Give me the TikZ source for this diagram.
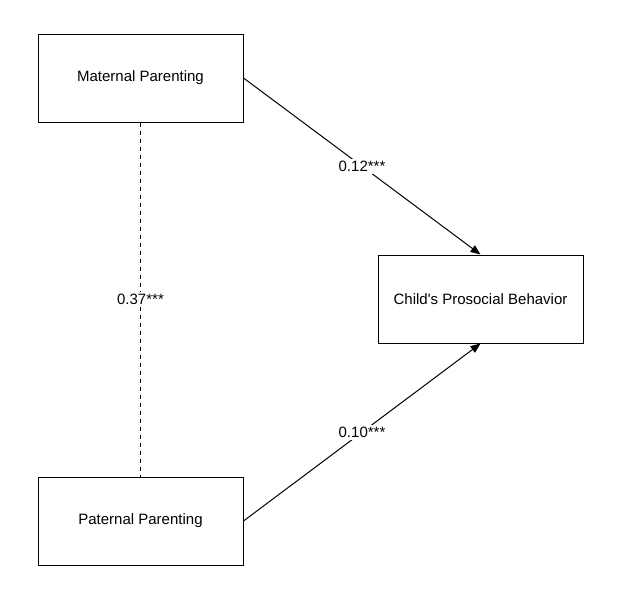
\documentclass[tikz,border=0pt]{standalone}
\usepackage{fontspec}
\setmainfont{Liberation Sans}
\usetikzlibrary{arrows.meta,positioning}

\begin{document}
\begin{tikzpicture}[x=1pt,y=1pt,
    every node/.style={font=\fontsize{15}{18}\selectfont},
    varbox/.style={draw, line width=1pt, minimum width=205pt, minimum height=88pt, inner sep=0pt},
    path/.style={line width=1pt, -{Triangle[length=10pt,width=8pt]}},
    coef/.style={fill=white, inner sep=2pt}
  ]
    \useasboundingbox (0,0) rectangle (618,-603);
    \node[varbox] (mat) at (140.5,-78) {Maternal Parenting};
    \node[varbox] (pat) at (140.5,-521) {Paternal Parenting};
    \node[varbox] (child) at (480.5,-299) {Child\textquotesingle s Prosocial Behavior};
    % correlation between parents
    \draw[line width=1pt, dash pattern=on 4pt off 4pt] (mat) -- node[coef] {0.37***} (pat);
    % paths to the outcome
    \draw[path] (mat.east) -- node[coef] {0.12***} (child.north);
    \draw[path] (pat.east) -- node[coef] {0.10***} (child.south);
  \end{tikzpicture}
\end{document}
